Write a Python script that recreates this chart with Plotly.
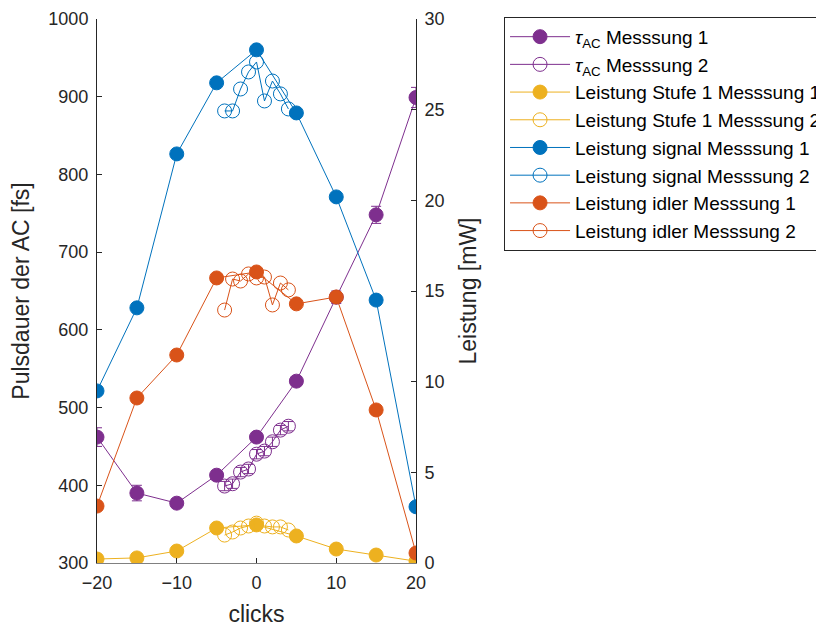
import plotly.graph_objects as go

# x positions (clicks)
clicks_m1 = [-20, -15, -10, -5, 0, 5, 10, 15, 20]
clicks_m2 = [-4, -3, -2, -1, 0, 1, 2, 3, 4]

# Pulse duration tau_AC [fs]
tau_m1 = [462, 390, 377, 413, 462, 534, 642, 748, 899]
tau_m1_err = [12, 10, 6, 6, 6, 6, 8, 11, 13]
tau_m2 = [399, 402, 417, 421, 440, 444, 456, 471, 476]
tau_m2_err = [6, 6, 6, 6, 6, 6, 6, 6, 6]

# Power [mW]
stufe1_m1 = [0.22, 0.28, 0.66, 1.93, 2.1, 1.49, 0.77, 0.44, 0.1]
stufe1_m2 = [1.54, 1.71, 1.93, 2.04, 2.2, 2.04, 1.99, 1.99, 1.82]
signal_m1 = [9.49, 14.07, 22.56, 26.48, 28.3, 24.82, 20.19, 14.5, 3.1]
signal_m2 = [24.93, 24.93, 26.14, 27.08, 27.63, 25.48, 26.58, 25.87, 25.04]
idler_m1 = [3.14, 9.1, 11.47, 15.72, 16.05, 14.29, 14.67, 8.44, 0.55]
idler_m2 = [13.95, 15.66, 15.55, 15.94, 15.72, 15.77, 14.23, 15.44, 15.06]

PURPLE = "#7E2F8E"
YELLOW = "#EDB120"
BLUE = "#0072BD"
ORANGE = "#D95319"
MS = 14

fig = go.Figure()

def add(x, y, color, filled, name, yaxis, err=None):
    marker = dict(size=MS, color=color, symbol="circle" if filled else "circle-open",
                  line=dict(color=color, width=1))
    kw = {}
    if err is not None:
        kw["error_y"] = dict(type="data", array=err, visible=True, color=color,
                             thickness=1, width=5)
    fig.add_trace(go.Scatter(x=x, y=y, mode="lines+markers", name=name,
                             line=dict(color=color, width=1), marker=marker,
                             yaxis=yaxis, **kw))

add(clicks_m1, tau_m1, PURPLE, True, "<i>τ</i><sub>AC</sub> Messsung 1", "y", tau_m1_err)
add(clicks_m2, tau_m2, PURPLE, False, "<i>τ</i><sub>AC</sub> Messsung 2", "y", tau_m2_err)
add(clicks_m1, stufe1_m1, YELLOW, True, "Leistung Stufe 1 Messsung 1", "y2")
add(clicks_m2, stufe1_m2, YELLOW, False, "Leistung Stufe 1 Messsung 2", "y2")
add(clicks_m1, signal_m1, BLUE, True, "Leistung signal Messsung 1", "y2")
add(clicks_m2, signal_m2, BLUE, False, "Leistung signal Messsung 2", "y2")
add(clicks_m1, idler_m1, ORANGE, True, "Leistung idler Messsung 1", "y2")
add(clicks_m2, idler_m2, ORANGE, False, "Leistung idler Messsung 2", "y2")

FONT = "Liberation Sans, Arial, sans-serif"
fig.update_layout(
    width=816, height=628,
    margin=dict(l=97, r=400, t=19, b=65, autoexpand=False),
    paper_bgcolor="white", plot_bgcolor="white",
    font=dict(family=FONT, size=18, color="#262626"),
    showlegend=True,
    legend=dict(x=1.276, y=1.004, xanchor="left", yanchor="top",
                bordercolor="#262626", borderwidth=1, bgcolor="white",
                itemwidth=60,
                font=dict(size=19, color="#000000"), tracegroupgap=0),
    xaxis=dict(range=[-20, 20], tickvals=[-20, -10, 0, 10, 20],
               showgrid=False, zeroline=False, showline=True, linecolor="#808080",
               linewidth=1, ticks="inside", ticklen=5, tickcolor="#262626",
               ticklabelstandoff=3,
               title=dict(text="clicks", font=dict(size=23), standoff=14)),
    yaxis=dict(range=[300, 1000], dtick=100, showgrid=False, zeroline=False,
               showline=True, linecolor="#262626", linewidth=1, ticks="inside",
               ticklen=5, tickcolor="#262626", ticklabelstandoff=4,
               title=dict(text="Pulsdauer der AC [fs]", font=dict(size=23), standoff=12)),
    yaxis2=dict(range=[0, 30], dtick=5, overlaying="y", side="right",
                showgrid=False, zeroline=False, showline=True, linecolor="#262626",
                linewidth=1, ticks="inside", ticklen=5, tickcolor="#262626",
                ticklabelstandoff=4,
                title=dict(text="Leistung [mW]", font=dict(size=23), standoff=16)),
)

fig.write_html("out.html")
